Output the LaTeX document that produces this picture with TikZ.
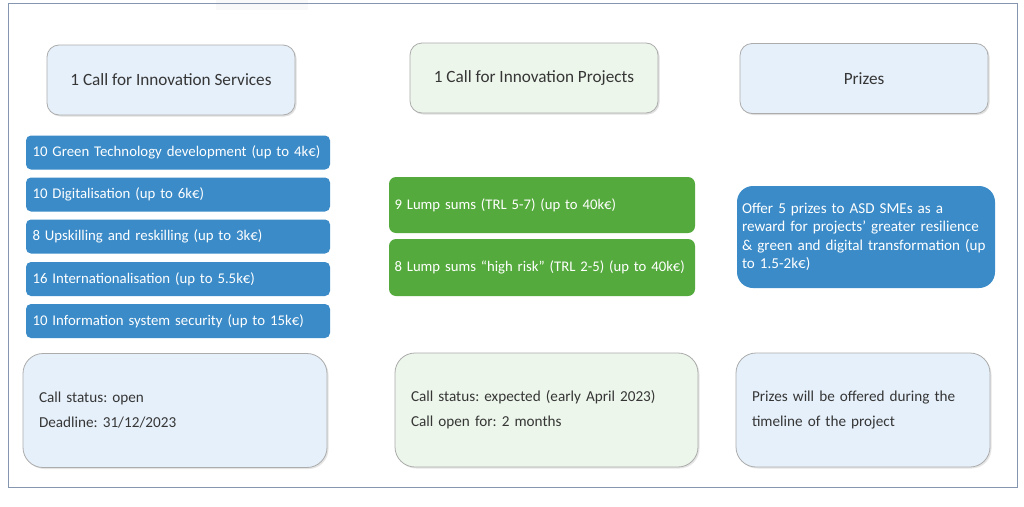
\documentclass[tikz,border=0pt]{standalone}
\usepackage{fontspec}
\setmainfont{Carlito}
\usetikzlibrary{shadows}
\definecolor{hdrblue}{HTML}{E6F0FA}
\definecolor{hdrgreen}{HTML}{ECF6EA}
\definecolor{boxblue}{HTML}{3A8BC8}
\definecolor{boxgreen}{HTML}{55AA3D}
\definecolor{frame}{HTML}{8496B0}
\definecolor{txt}{HTML}{363636}
\tikzset{
  hdr/.style={draw=gray!65, line width=0.8pt, rounded corners=12pt, minimum width=248pt, minimum height=70pt,
    font=\fontsize{17.2}{20}\selectfont, text=txt,
    drop shadow={opacity=0.25, shadow xshift=1.5pt, shadow yshift=-1.5pt}},
  item/.style={fill=boxblue, rounded corners=5pt, minimum width=304pt, minimum height=34pt,
    text width=291pt, inner xsep=6.5pt, align=left, text=white, font=\fontsize{14.8}{17}\selectfont},
  gitem/.style={fill=boxgreen, rounded corners=7pt, minimum width=306pt, minimum height=56pt,
    text width=295pt, inner xsep=5.5pt, align=left, text=white, font=\fontsize{14.7}{17}\selectfont},
  status/.style={draw=gray!65, line width=0.8pt, rounded corners=20pt, minimum height=114pt,
    align=left, text=txt, font=\fontsize{15.2}{25}\selectfont, inner xsep=16pt,
    drop shadow={opacity=0.2, shadow xshift=1.5pt, shadow yshift=-1.5pt}},
}
\begin{document}
\frenchspacing
\begin{tikzpicture}[x=1pt,y=-1pt]
\useasboundingbox (0,0) rectangle (1024,506);
\fill[white] (0,0) rectangle (1024,506);
\fill[gray!5] (216,0) rectangle (308,10);
\draw[frame, line width=1pt] (8,3) rectangle (1017,487);
% headers
\node[hdr, fill=hdrblue] (h1) at (171,80) {1 Call for Innovation Services};
\node[hdr, fill=hdrgreen] (h2) at (534,78) {1 Call for Innovation Projects};
\node[hdr, fill=hdrblue] (h3) at (864,78.5) {Prizes};
% services items
\node[item] (s1) at (178,152.5) {10 Green Technology development (up to 4k€)};
\node[item] (s2) at (178,194.5) {10 Digitalisation (up to 6k€)};
\node[item] (s3) at (178,236.5) {8 Upskilling and reskilling (up to 3k€)};
\node[item] (s4) at (178,279) {16 Internationalisation (up to 5.5k€)};
\node[item] (s5) at (178,321) {10 Information system security (up to 15k€)};
% project items
\node[gitem] (p1) at (542,205) {9 Lump sums (TRL 5-7) (up to 40k€)};
\node[gitem, minimum height=57pt] (p2) at (542,267.5) {8 Lump sums “high risk” (TRL 2-5) (up to 40k€)};
% prize item
\node[fill=boxblue, rounded corners=16pt, minimum width=258pt, minimum height=102pt, text width=248pt,
  inner xsep=5pt, align=left, text=white, font=\fontsize{15.1}{18.5}\selectfont] (z1) at (866,237)
  {Offer 5 prizes to ASD SMEs as a\\reward for projects’ greater resilience\\\& green and digital transformation (up\\to 1.5-2k€)};
% status boxes
\node[status, fill=hdrblue, minimum width=304pt, text width=272pt] (b1) at (175,410.5)
  {Call status: open\\Deadline: 31/12/2023};
\node[status, fill=hdrgreen, minimum width=303pt, text width=271pt] (b2) at (546.5,410)
  {Call status: expected (early April 2023)\\Call open for: 2 months};
\node[status, fill=hdrblue, minimum width=254pt, text width=222pt] (b3) at (863,410)
  {Prizes will be offered during the\\timeline of the project};
\end{tikzpicture}
\end{document}
